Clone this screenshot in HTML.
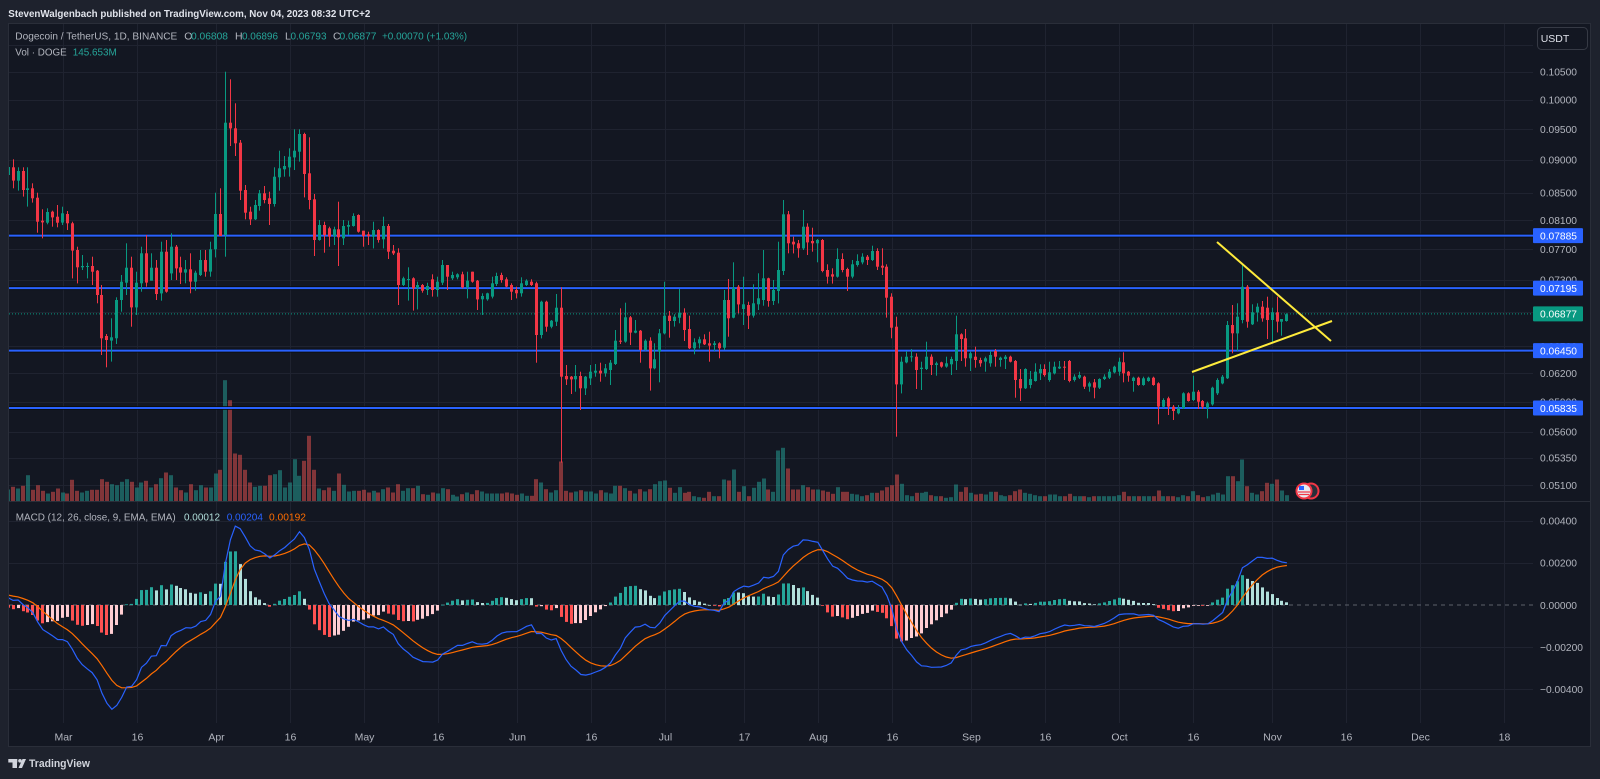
<!DOCTYPE html>
<html><head><meta charset="utf-8">
<style>
html,body{margin:0;padding:0;background:#1e222d;width:1600px;height:779px;overflow:hidden;}
svg{display:block;font-family:"Liberation Sans",Arial,sans-serif;}
</style></head><body>
<svg id="c" width="1600" height="779" viewBox="0 0 1600 779" xmlns="http://www.w3.org/2000/svg">
<defs>
<clipPath id="cm"><rect x="9" y="24" width="1524" height="477.5"/></clipPath>
<clipPath id="cd"><rect x="9" y="502.5" width="1524" height="220.5"/></clipPath>
</defs>
<rect x="0" y="0" width="1600" height="779" fill="#1e222d"/>
<rect x="8.5" y="23.5" width="1582" height="723" fill="#131722" stroke="#2a2e39" stroke-width="1"/>
<g id="grid"></g>
<line x1="9" y1="501.5" x2="1590" y2="501.5" stroke="#2a2e39" stroke-width="1"/>
<line x1="9" y1="605" x2="1533" y2="605" stroke="#5d606b" stroke-width="1" stroke-dasharray="4,4"/>
<g id="vol" clip-path="url(#cm)"></g>
<g id="macd" clip-path="url(#cd)"></g>
<g id="hl"></g>
<g id="cand" clip-path="url(#cm)"></g>
<line x1="1217" y1="242" x2="1331" y2="341" stroke="#ffeb3b" stroke-width="2"/>
<line x1="1192" y1="372" x2="1332" y2="321" stroke="#ffeb3b" stroke-width="2"/>
<!-- event icon -->
<circle cx="1311" cy="491" r="7.5" fill="#2a2e39" stroke="#f23645" stroke-width="2"/>
<circle cx="1304" cy="491" r="7.5" fill="#e8e8ee" stroke="#f23645" stroke-width="2"/>
<rect x="1299" y="486" width="5" height="4" fill="#2962ff"/>
<line x1="1298" y1="492" x2="1310" y2="492" stroke="#f23645" stroke-width="1.2"/>
<line x1="1299" y1="494.5" x2="1309" y2="494.5" stroke="#f23645" stroke-width="1.2"/>
<g id="axis" font-size="10.5" fill="#b2b5be"></g>
<!-- header texts -->
<text x="8.3" y="17" font-size="10.2" font-weight="bold" fill="#e0e3eb" textLength="362" lengthAdjust="spacingAndGlyphs">StevenWalgenbach published on TradingView.com, Nov 04, 2023 08:32 UTC+2</text>
<g font-size="10.5">
<text x="15.3" y="39.7" fill="#b2b5be" textLength="162" lengthAdjust="spacingAndGlyphs">Dogecoin / TetherUS, 1D, BINANCE</text>
<text x="184.3" y="39.7" fill="#b2b5be">O</text>
<text x="191" y="39.7" fill="#26a69a" textLength="37" lengthAdjust="spacingAndGlyphs">0.06808</text>
<text x="235" y="39.7" fill="#b2b5be">H</text>
<text x="242" y="39.7" fill="#26a69a" textLength="36" lengthAdjust="spacingAndGlyphs">0.06896</text>
<text x="285" y="39.7" fill="#b2b5be">L</text>
<text x="290.5" y="39.7" fill="#26a69a" textLength="36" lengthAdjust="spacingAndGlyphs">0.06793</text>
<text x="333" y="39.7" fill="#b2b5be">C</text>
<text x="339.5" y="39.7" fill="#26a69a" textLength="37" lengthAdjust="spacingAndGlyphs">0.06877</text>
<text x="382" y="39.7" fill="#26a69a" textLength="85" lengthAdjust="spacingAndGlyphs">+0.00070 (+1.03%)</text>
<text x="15.3" y="55.4" fill="#b2b5be" textLength="51.4" lengthAdjust="spacingAndGlyphs">Vol · DOGE</text>
<text x="72.7" y="55.4" fill="#26a69a" textLength="44" lengthAdjust="spacingAndGlyphs">145.653M</text>
<text x="15.7" y="520.4" fill="#b2b5be" textLength="160" lengthAdjust="spacingAndGlyphs">MACD (12, 26, close, 9, EMA, EMA)</text>
<text x="184" y="520.4" fill="#b2dfdb" textLength="36" lengthAdjust="spacingAndGlyphs">0.00012</text>
<text x="226.7" y="520.4" fill="#2962ff" textLength="36.3" lengthAdjust="spacingAndGlyphs">0.00204</text>
<text x="269" y="520.4" fill="#ff6d00" textLength="37" lengthAdjust="spacingAndGlyphs">0.00192</text>
</g>
<!-- USDT button -->
<rect x="1537.5" y="27.5" width="50" height="22" rx="4" fill="#131722" stroke="#363a45" stroke-width="1"/>
<text x="1555" y="42" font-size="10.5" fill="#e0e3eb" text-anchor="middle">USDT</text>
<g id="boxes" font-size="10.5"></g>
<!-- TradingView logo -->
<g fill="#d1d4dc">
<rect x="8.3" y="759" width="9" height="3.5"/>
<rect x="12.5" y="759" width="4.5" height="9"/>
<circle cx="20" cy="760.8" r="1.8"/>
<polygon points="18.5,768 22.5,759 26,759 22,768"/>
</g>
<text x="29" y="767.2" font-size="11" font-weight="bold" fill="#d1d4dc" textLength="61" lengthAdjust="spacingAndGlyphs">TradingView</text>
</svg>
<script>
(function(){
const Y0=71.7,K=572.4;
const y2p=y=>0.105*Math.exp(-(y-Y0)/K);
const p2y=p=>Y0+K*Math.log(0.105/p);
const xd=d=>62.5+4.937*d;
const MZ=605,MS=21075;
function add(g,html){document.getElementById(g).insertAdjacentHTML('beforeend',html);}

const vx=[[0,"Mar"],[15,"16"],[31,"Apr"],[46,"16"],[61,"May"],[76,"16"],[92,"Jun"],[107,"16"],[122,"Jul"],[138,"17"],[153,"Aug"],[168,"16"],[184,"Sep"],[199,"16"],[214,"Oct"],[229,"16"],[245,"Nov"],[260,"16"],[275,"Dec"],[292,"18"]];
let gs="",ax="";
vx.forEach(([d,l])=>{const x=Math.round(xd(d))+0.5;gs+=`<line x1="${x}" y1="24" x2="${x}" y2="723" stroke="#1f2330" stroke-width="1"/>`;ax+=`<text x="${x}" y="740.4" text-anchor="middle">${l}</text>`;});
const pr=[0.11,0.105,0.1,0.095,0.09,0.085,0.081,0.077,0.073,0.069,0.065,0.062,0.059,0.056,0.0535,0.051];
pr.forEach(p=>{const y=p2y(p);const yy=Math.round(y)+0.5;gs+=`<line x1="9" y1="${yy}" x2="1533" y2="${yy}" stroke="#1f2330" stroke-width="1"/>`;if(p<0.108)ax+=`<text x="1540" y="${(y+3.8).toFixed(1)}" textLength="37" lengthAdjust="spacingAndGlyphs">${p.toFixed(5)}</text>`;});
[[0.004,"0.00400"],[0.002,"0.00200"],[-0.002,"\u22120.00200"],[-0.004,"\u22120.00400"]].forEach(([v,l])=>{const y=MZ-MS*v;const yy=Math.round(y)+0.5;gs+=`<line x1="9" y1="${yy}" x2="1533" y2="${yy}" stroke="#1f2330" stroke-width="1"/>`;ax+=`<text x="1540" y="${(y+3.8).toFixed(1)}" textLength="${v<0?43:37}" lengthAdjust="spacingAndGlyphs">${l}</text>`;});
ax+=`<text x="1540" y="${(MZ+3.8).toFixed(1)}" textLength="37" lengthAdjust="spacingAndGlyphs">0.00000</text>`;
add("grid",gs);add("axis",ax);

let hl="",bx="";
[0.07885,0.07195,0.0645,0.05835].forEach(p=>{const y=p2y(p);hl+=`<line x1="9" y1="${y.toFixed(1)}" x2="1533" y2="${y.toFixed(1)}" stroke="#0a0c10" stroke-width="4" opacity="0.8"/><line x1="9" y1="${y.toFixed(1)}" x2="1533" y2="${y.toFixed(1)}" stroke="#2962ff" stroke-width="2"/>`;
bx+=`<rect x="1533" y="${(y-7.5).toFixed(1)}" width="50" height="15" fill="#2962ff" rx="1"/><text x="1540" y="${(y+3.8).toFixed(1)}" fill="#ffffff" textLength="37" lengthAdjust="spacingAndGlyphs">${p.toFixed(5)}</text>`;});
const cy=p2y(0.06877);
hl+=`<line x1="9" y1="${cy.toFixed(1)}" x2="1533" y2="${cy.toFixed(1)}" stroke="#089981" stroke-width="1" stroke-dasharray="1,2"/>`;
bx+=`<rect x="1533" y="${(cy-7.5).toFixed(1)}" width="50" height="15" fill="#089981" rx="1"/><text x="1540" y="${(cy+3.8).toFixed(1)}" fill="#ffffff" textLength="37" lengthAdjust="spacingAndGlyphs">0.06877</text>`;
add("hl",hl);add("boxes",bx);

const segs=[
[60,-10,"r322,362,298,385 g333,362,322,392 r333,390,322,410 g385,390,322,440 r385,415,370,428 r413,485,398,518 r482,487,448,535 g456,488,445,493 r455,472,452,500 r470,488,435,502 g460,488,440,495 r462,490,453,510 r490,572,485,655 r570,622,560,670 g618,622,585,630 g618,621,608,655 r618,635,590,675 r632,705,630,730 r705,835,675,885 r828,840,822,922 g832,842,775,905 g720,835,712,852 g665,720,645,755 g623,668,550,705 r623,742,590,800 g668,742,635,765 g580,670,560,695 r580,668,525,680 g623,662,580,662 r623,702,600,720 g575,700,545,722 r575,695,540,698 g560,640,520,660 r560,625,555,660 r622,638,590,672 g628,638,600,670 r628,665,580,700 g638,665,632,692 g600,645,570,648 r600,635,570,650 g568,635,545,650 g462,568,398,592 r462,528,385,528 g188,525,35,590 r188,205,58,258 r205,250,130,288 r248,392,240,420 r390,458,375,478 r455,478,440,495 g435,478,420,480 g400,438,390,452 r400,420,378,430 r415,432,395,495 g350,432,322,440 g325,352,272,392 g318,328,288,350 g290,322,265,350 g272,292,208,330 g222,275,208,305 r222,342,218,412 r340,420,232,448 r418,540,402,588 g495,540,480,542 r495,525,485,578 r505,530,500,560"],
[180,55,"g148,168,140,195 r148,172,65,258 g138,175,120,195 g135,140,122,165 g108,138,100,140 r105,155,103,158 r152,168,152,200 r163,168,155,195 g150,170,125,205 r150,180,148,188 g138,178,110,205 r138,215,132,237 r212,220,195,225 r218,315,205,375 g295,315,290,318 g297,299,262,362 r295,325,292,392 g315,325,305,388 r315,332,312,338 g318,330,308,345 r298,330,283,350 g305,330,290,350 g255,308,240,315 r255,290,255,330 g285,295,275,300 g283,292,280,298 r283,322,275,325 g302,322,275,355 r275,305,275,308 r302,358,300,390 g348,358,340,405 g340,358,338,362 g310,350,290,355 g288,312,278,318 r285,300,278,308 r298,320,292,322 r315,335,310,360 r330,340,320,355 g310,340,292,350 g302,315,298,318 r305,315,298,318 r310,465,305,548 g365,465,362,475 r365,440,362,455 g422,440,420,445 g383,425,342,438 r383,590,322,848 r588,598,555,615 r590,598,588,642 g588,598,555,635 r588,625,575,690 g590,625,588,645 g575,595,555,615 g572,578,552,590 r572,580,548,605 g565,580,552,590 g548,570,540,615 g482,552,450,555 r482,485,385,492 g412,485,368,488 r412,458,408,495 g452,458,420,460 r452,510,450,548 g482,510,478,512 r482,565,472,632 g538,565,490,568"],
[185,121,"g445,500,432,592 g392,445,290,448 r392,408,378,458 g395,408,388,425 g383,398,312,415 r383,435,370,468 r432,490,392,492 g472,490,460,508 g463,475,455,490 r463,478,448,480 r475,482,440,530 g475,480,468,498 r475,490,472,520 g345,488,315,495 r345,400,282,455 g308,398,232,400 r305,358,300,385 g358,372,275,420 r360,392,350,432 g355,392,298,398 g340,358,265,375 g280,345,195,362 r280,348,278,365 g315,348,285,360 g255,318,170,355 g88,258,45,270 r88,175,78,205 r170,178,155,205 r175,190,165,218 g125,190,75,195 r125,172,115,210 r168,175,128,200 g165,175,162,232 r165,258,162,262 r255,275,238,296 r268,275,250,296 g222,275,190,278 r222,255,205,262 r252,275,248,318 g238,275,225,280 g228,240,208,245 g215,232,205,238 r215,225,210,240 g198,225,182,228 r198,245,190,255 r242,248,190,270 r245,338,238,398 r335,428,325,460 r425,598,395,755 g530,598,515,625 g515,532,498,535 g514,516,492,530 r515,555,505,612 g548,552,530,615 g515,552,470,555 r515,540,508,570 g535,540,530,572 r532,545,530,548 g535,545,515,548 g522,538,515,570 g448,528,392,555 r448,462,445,528 r460,520,432,545 g505,520,500,558 r515,525,485,548"],
[225,186,"r405,415,398,425 g400,410,395,440 g390,415,378,425 r378,395,372,425 g398,405,395,425 g395,402,390,432 r395,410,392,412 r408,465,405,518 r462,490,432,528 g432,490,430,492 g462,480,438,490 g440,468,415,470 g432,445,418,465 r432,450,418,455 g442,465,410,470 g425,445,410,448 g425,430,408,432 r425,428,408,465 r408,468,405,472 g455,465,448,470 g450,458,440,462 r455,485,452,492 g475,485,470,500 r472,488,462,520 g462,488,460,492 g455,462,448,465 g440,458,432,462 g425,442,422,445 g410,440,398,452 r412,445,382,472 r440,452,438,470 g458,468,455,500 r458,480,455,482 g460,480,455,482 g458,468,455,470 r458,480,455,482 r475,545,472,598 g525,545,520,548 r520,545,515,570 r545,558,540,585 g550,565,540,568 g505,550,502,552 r505,528,502,530 g500,525,452,528 r500,530,495,552 r528,545,525,552 g535,550,530,580 g488,538,485,542 g465,505,460,510 g455,475,450,478 g300,460,288,462 r300,325,240,385 g275,325,235,378 g185,285,118,295 r185,290,180,308 g262,298,238,300 g245,262,235,290 r245,280,228,290 r248,285,215,342 g262,285,248,350 r262,290,215,322 g282,290,282,332 g268,288,265,290"]];
const C=[{d:-11,g:true,bt:167,bb:175,wt:163,wb:180}];
segs.forEach(([off,d0,s])=>{s.trim().split(/\s+/).forEach((t,i)=>{const v=t.slice(1).split(',').map(Number);C.push({d:d0+i,g:t[0]=='g',bt:off+v[0]/3,bb:off+v[1]/3,wt:off+v[2]/3,wb:off+v[3]/3});});});
const V=[10,12.7,11,13.7,24.3,9.7,14.3,8.7,6,7.7,11,7,6,19.7,8.7,7,8.7,9.7,9.7,20.3,17.7,15.3,14.3,17.7,20.3,17.7,12,17,18.7,12,15.3,21.3,27,24.3,12,9.3,7,15.3,9.3,14.3,12,12,26,29.7,119.3,99.3,46,44.7,29.7,17,12.7,13.7,13.7,24.3,25.3,29.3,12,17,40.3,23.7,38.7,63.7,29.7,11,9.3,12,
8.7,26,14.7,8,8.7,8.7,9.7,7,8.7,7,10.3,12,7,15.3,8.7,11.3,11.3,13.7,5.3,4.7,7,6,11.3,10.3,4.7,3,5.3,7,5.3,9.3,8,6,6,6,6,7,6,4.7,6,3.7,3.7,20.3,17,10.3,7,9.3,38,8.7,7,8,9.3,8,8,6,9.3,7,6,13.7,13.7,11.3,8.7,6,10.3,8,10.3,15.3,
18.3,19,11.7,6.7,12.3,6.7,7.7,3.3,2.3,1.7,7.7,3.3,3.3,20,19,30,7.7,13.3,3.3,11.7,17.7,21,10,7.7,49,51.7,31,10,10,14.3,12.3,10,10,9,7.7,5.7,12.3,7.7,7.7,5.7,5,3.3,4.3,6.7,6.7,9,12.3,14.3,25,15.7,4.3,3.3,6.7,6.7,7.7,4.3,3.3,3.3,1.7,2.3,15,7.7,12.3,6.7,5,
5.7,5,7.7,7.7,4.3,3.3,4.3,8.3,10,6.7,5.7,4.3,3.3,3.3,5,5,3.3,3.3,5.7,3.3,3.3,3.3,2.3,3.3,3.3,3.3,3.3,3.3,4.3,7.7,3.3,3.3,3.3,3.3,3.3,3.3,9,3.3,3.3,3.3,2.3,4.3,3.3,8.3,4.3,2.3,3.3,5,6.7,5,23.3,23.3,18.3,40,13.3,6.7,5,8.3,16.7,15.7,20,9,4.3];
let cs="",vs="";
C.forEach((c,i)=>{const xc=xd(c.d);const bx=Math.round(xc-1.5);const col=c.g?"#089981":"#f23645";
const bh=Math.max(1,c.bb-c.bt);
cs+=`<rect x="${bx+1}" y="${c.wt.toFixed(1)}" width="1" height="${Math.max(1,c.wb-c.wt).toFixed(1)}" fill="${col}"/><rect x="${bx}" y="${c.bt.toFixed(1)}" width="3" height="${bh.toFixed(1)}" fill="${col}"/>`;
const h=(V[i]||3)+1.5;const vx2=Math.round(xc-2);
vs+=`<rect x="${vx2}" y="${(501-h).toFixed(1)}" width="4" height="${h.toFixed(1)}" fill="${c.g?'rgba(38,166,154,0.5)':'rgba(239,83,80,0.5)'}"/>`;});
add("cand",cs);add("vol",vs);

const kp=[[-100,0.102],[-90,0.102],[-83,0.093],[-76,0.080],[-71,0.073],[-60,0.070],[-51,0.076],[-47,0.086],[-41,0.0836],[-36,0.0874],[-32,0.0946],[-29,0.0922],[-25,0.0924],[-23,0.0893],[-21,0.0925],[-20,0.085],[-18,0.0845],[-16,0.082],[-14,0.089],[-13,0.0895],[-12,0.0905]];
const closes=[];
for(let d=-100;d<=-12;d++){let j=0;while(j<kp.length-1&&kp[j+1][0]<d)j++;const a=kp[j],b=kp[Math.min(j+1,kp.length-1)];const t=b[0]===a[0]?0:(d-a[0])/(b[0]-a[0]);closes.push(a[1]+(b[1]-a[1])*Math.max(0,Math.min(1,t)));}
const nWarm=closes.length;
C.forEach(c=>closes.push(y2p(c.g?c.bt:c.bb)));
let e12,e26,sg;const out=[];
closes.forEach((p,i)=>{if(i===0){e12=e26=p;}else{e12=p*2/13+e12*11/13;e26=p*2/27+e26*25/27;}const m=e12-e26;sg=(i===0)?m:m*0.2+sg*0.8;out.push([m,sg,m-sg]);});
let ms="",mp="",sp="",prev=null;
C.forEach((c,i)=>{const o=out[nWarm+i];const x=xd(c.d);const h=o[2];
let col;const pv=prev===null?h:prev;
if(h>=0)col=h>=pv?"#26a69a":"#b2dfdb";else col=h>pv?"#ffcdd2":"#ff5252";
prev=h;
const yh=MZ-MS*h;const top=Math.min(yh,MZ),hh=Math.max(0.8,Math.abs(yh-MZ));
ms+=`<rect x="${Math.round(x-1.5)}" y="${top.toFixed(1)}" width="3" height="${hh.toFixed(1)}" fill="${col}"/>`;
mp+=`${x.toFixed(1)},${(MZ-MS*o[0]).toFixed(1)} `;sp+=`${x.toFixed(1)},${(MZ-MS*o[1]).toFixed(1)} `;});
add("macd",ms+`<polyline points="${sp}" fill="none" stroke="#ff6d00" stroke-width="1.2"/><polyline points="${mp}" fill="none" stroke="#2962ff" stroke-width="1.2"/>`);
})();
</script>
</body></html>
